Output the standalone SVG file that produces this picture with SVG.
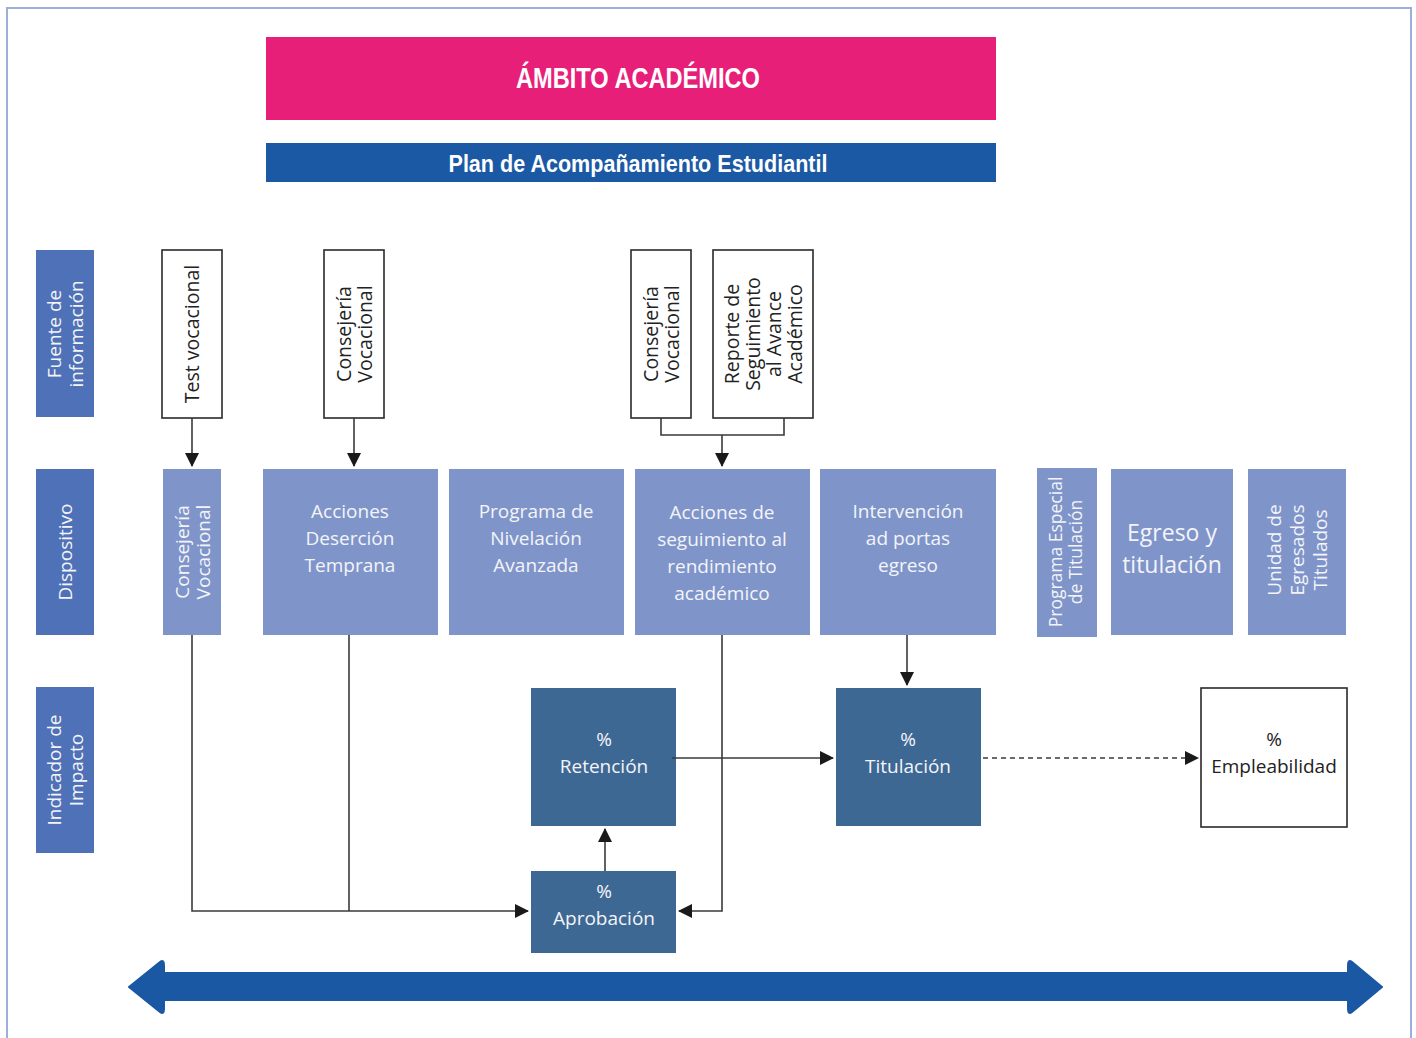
<svg xmlns="http://www.w3.org/2000/svg" width="1416" height="1038" viewBox="0 0 1416 1038">
<defs>
<style>
.lbl{fill:#4F71B7}
.dev{fill:#7F95CA}
.ind{fill:#3E6894}
.src{fill:#fff;stroke:#2a2a2a;stroke-width:1.6}
.t{font-family:"Open Sans","Liberation Sans",sans-serif;font-size:19px;text-anchor:middle}
.s19{font-size:19.5px}
.s17{font-size:17.5px}
.s24{font-size:23px}
.w{fill:#F4F4F8}
.k{fill:#222}
.ttl{font-family:"Liberation Sans Narrow","Liberation Sans",sans-serif;font-weight:bold;fill:#fff;text-anchor:middle}
.c{fill:none;stroke:#3a3a3a;stroke-width:1.6}
</style>
<marker id="ah2" markerWidth="14" markerHeight="14" refX="13" refY="7" orient="auto" markerUnits="userSpaceOnUse" viewBox="0 0 14 14">
<path d="M0,0 L14,7 L0,14 Z" fill="#1a1a1a"/>
</marker>
</defs>
<rect x="0" y="0" width="1416" height="1038" fill="#fff"/>
<path d="M7,1038 V8 H1411 V1038" fill="none" stroke="#9DAEDB" stroke-width="2"/>

<g id="titulo">
<rect x="266" y="37" width="730" height="83" fill="#E81F79"/>
<text class="ttl" x="638" y="88" font-size="29" textLength="244" lengthAdjust="spacingAndGlyphs">ÁMBITO ACADÉMICO</text>
</g>
<g id="plan">
<rect x="266" y="143" width="730" height="39" fill="#1B59A5"/>
<text class="ttl" x="638" y="172" font-size="24" textLength="379" lengthAdjust="spacingAndGlyphs">Plan de Acompañamiento Estudiantil</text>
</g>

<g id="lbl-fuente">
<rect class="lbl" x="36" y="250" width="58" height="167"/>
<text class="t w" transform="translate(65,334) rotate(-90)"><tspan x="0" y="-4">Fuente de</tspan><tspan x="0" y="18">información</tspan></text>
</g>
<g id="lbl-dispositivo">
<rect class="lbl" x="36" y="469" width="58" height="166"/>
<text class="t w" transform="translate(65,552) rotate(-90)"><tspan x="0" y="7">Dispositivo</tspan></text>
</g>
<g id="lbl-indicador">
<rect class="lbl" x="36" y="687" width="58" height="166"/>
<text class="t w" transform="translate(65,770) rotate(-90)"><tspan x="0" y="-4">Indicador de</tspan><tspan x="0" y="18">Impacto</tspan></text>
</g>

<g id="src-test">
<rect class="src" x="162" y="250" width="60" height="168"/>
<text class="t s19 k" transform="translate(192,334) rotate(-90)"><tspan x="0" y="7">Test vocacional</tspan></text>
</g>
<g id="src-consejeria1">
<rect class="src" x="324" y="250" width="60" height="168"/>
<text class="t s19 k" transform="translate(354,334) rotate(-90)"><tspan x="0" y="-3">Consejería</tspan><tspan x="0" y="18">Vocacional</tspan></text>
</g>
<g id="src-consejeria2">
<rect class="src" x="631" y="250" width="60" height="168"/>
<text class="t s19 k" transform="translate(661,334) rotate(-90)"><tspan x="0" y="-3">Consejería</tspan><tspan x="0" y="18">Vocacional</tspan></text>
</g>
<g id="src-reporte">
<rect class="src" x="713" y="250" width="100" height="168"/>
<text class="t s19 k" transform="translate(763,334) rotate(-90)"><tspan x="0" y="-24">Reporte de</tspan><tspan x="0" y="-3">Seguimiento</tspan><tspan x="0" y="18">al Avance</tspan><tspan x="0" y="39">Académico</tspan></text>
</g>

<g id="dev-consejeria">
<rect class="dev" x="163" y="469" width="58" height="166"/>
<text class="t w" transform="translate(192,552) rotate(-90)"><tspan x="0" y="-3">Consejería</tspan><tspan x="0" y="18">Vocacional</tspan></text>
</g>
<g id="dev-desercion">
<rect class="dev" x="263" y="469" width="175" height="166"/>
<text class="t w"><tspan x="350" y="518">Acciones</tspan><tspan x="350" y="545">Deserción</tspan><tspan x="350" y="572">Temprana</tspan></text>
</g>
<g id="dev-nivelacion">
<rect class="dev" x="449" y="469" width="175" height="166"/>
<text class="t w"><tspan x="536" y="518">Programa de</tspan><tspan x="536" y="545">Nivelación</tspan><tspan x="536" y="572">Avanzada</tspan></text>
</g>
<g id="dev-seguimiento">
<rect class="dev" x="635" y="469" width="175" height="166"/>
<text class="t w"><tspan x="722" y="519">Acciones de</tspan><tspan x="722" y="546">seguimiento al</tspan><tspan x="722" y="573">rendimiento</tspan><tspan x="722" y="600">académico</tspan></text>
</g>
<g id="dev-intervencion">
<rect class="dev" x="820" y="469" width="176" height="166"/>
<text class="t w"><tspan x="908" y="518">Intervención</tspan><tspan x="908" y="545">ad portas</tspan><tspan x="908" y="572">egreso</tspan></text>
</g>
<g id="dev-especial">
<rect class="dev" x="1037" y="468" width="60" height="169"/>
<text class="t s17 w" transform="translate(1067,552) rotate(-90)"><tspan x="0" y="-5">Programa Especial</tspan><tspan x="0" y="15">de Titulación</tspan></text>
</g>
<g id="dev-egreso">
<rect class="dev" x="1111" y="469" width="122" height="166"/>
<text class="t s24 w"><tspan x="1172" y="541">Egreso y</tspan><tspan x="1172" y="573">titulación</tspan></text>
</g>
<g id="dev-unidad">
<rect class="dev" x="1248" y="469" width="98" height="166"/>
<text class="t w" transform="translate(1298,550) rotate(-90)"><tspan x="0" y="-17">Unidad de</tspan><tspan x="0" y="6">Egresados</tspan><tspan x="0" y="29">Titulados</tspan></text>
</g>

<g id="ind-retencion">
<rect class="ind" x="531" y="688" width="145" height="138"/>
<text class="t w"><tspan x="604" y="746">%</tspan><tspan x="604" y="773">Retención</tspan></text>
</g>
<g id="ind-titulacion">
<rect class="ind" x="836" y="688" width="145" height="138"/>
<text class="t w"><tspan x="908" y="746">%</tspan><tspan x="908" y="773">Titulación</tspan></text>
</g>
<g id="ind-aprobacion">
<rect class="ind" x="531" y="871" width="145" height="82"/>
<text class="t w"><tspan x="604" y="898">%</tspan><tspan x="604" y="925">Aprobación</tspan></text>
</g>
<g id="ind-empleabilidad">
<rect class="src" x="1201" y="688" width="146" height="139"/>
<text class="t k"><tspan x="1274" y="746">%</tspan><tspan x="1274" y="773">Empleabilidad</tspan></text>
</g>

<g id="connectors">
<path class="c" d="M192,418 V466" marker-end="url(#ah2)"/>
<path class="c" d="M354,418 V466" marker-end="url(#ah2)"/>
<path class="c" d="M661,418 V435 H784 V418"/>
<path class="c" d="M722,435 V466" marker-end="url(#ah2)"/>
<path class="c" d="M192,635 V911 H528" marker-end="url(#ah2)"/>
<path class="c" d="M349,635 V911"/>
<path class="c" d="M722,635 V911 H679" marker-end="url(#ah2)"/>
<path class="c" d="M605,871 V829" marker-end="url(#ah2)"/>
<path class="c" d="M672,758 H833" marker-end="url(#ah2)"/>
<path class="c" d="M907,635 V685" marker-end="url(#ah2)"/>
<path class="c" d="M983,758 H1198" stroke-dasharray="5,4" marker-end="url(#ah2)"/>
</g>

<g id="flecha">
<path d="M129,987 L160,962 Q164,959 164,965 V973 H1348 V965 Q1348,959 1352,962 L1382,987 L1352,1012 Q1348,1015 1348,1009 V1000 H164 V1009 Q164,1015 160,1012 Z" fill="#1A58A4" stroke="#1A58A4" stroke-width="2" stroke-linejoin="round"/>
</g>
</svg>
